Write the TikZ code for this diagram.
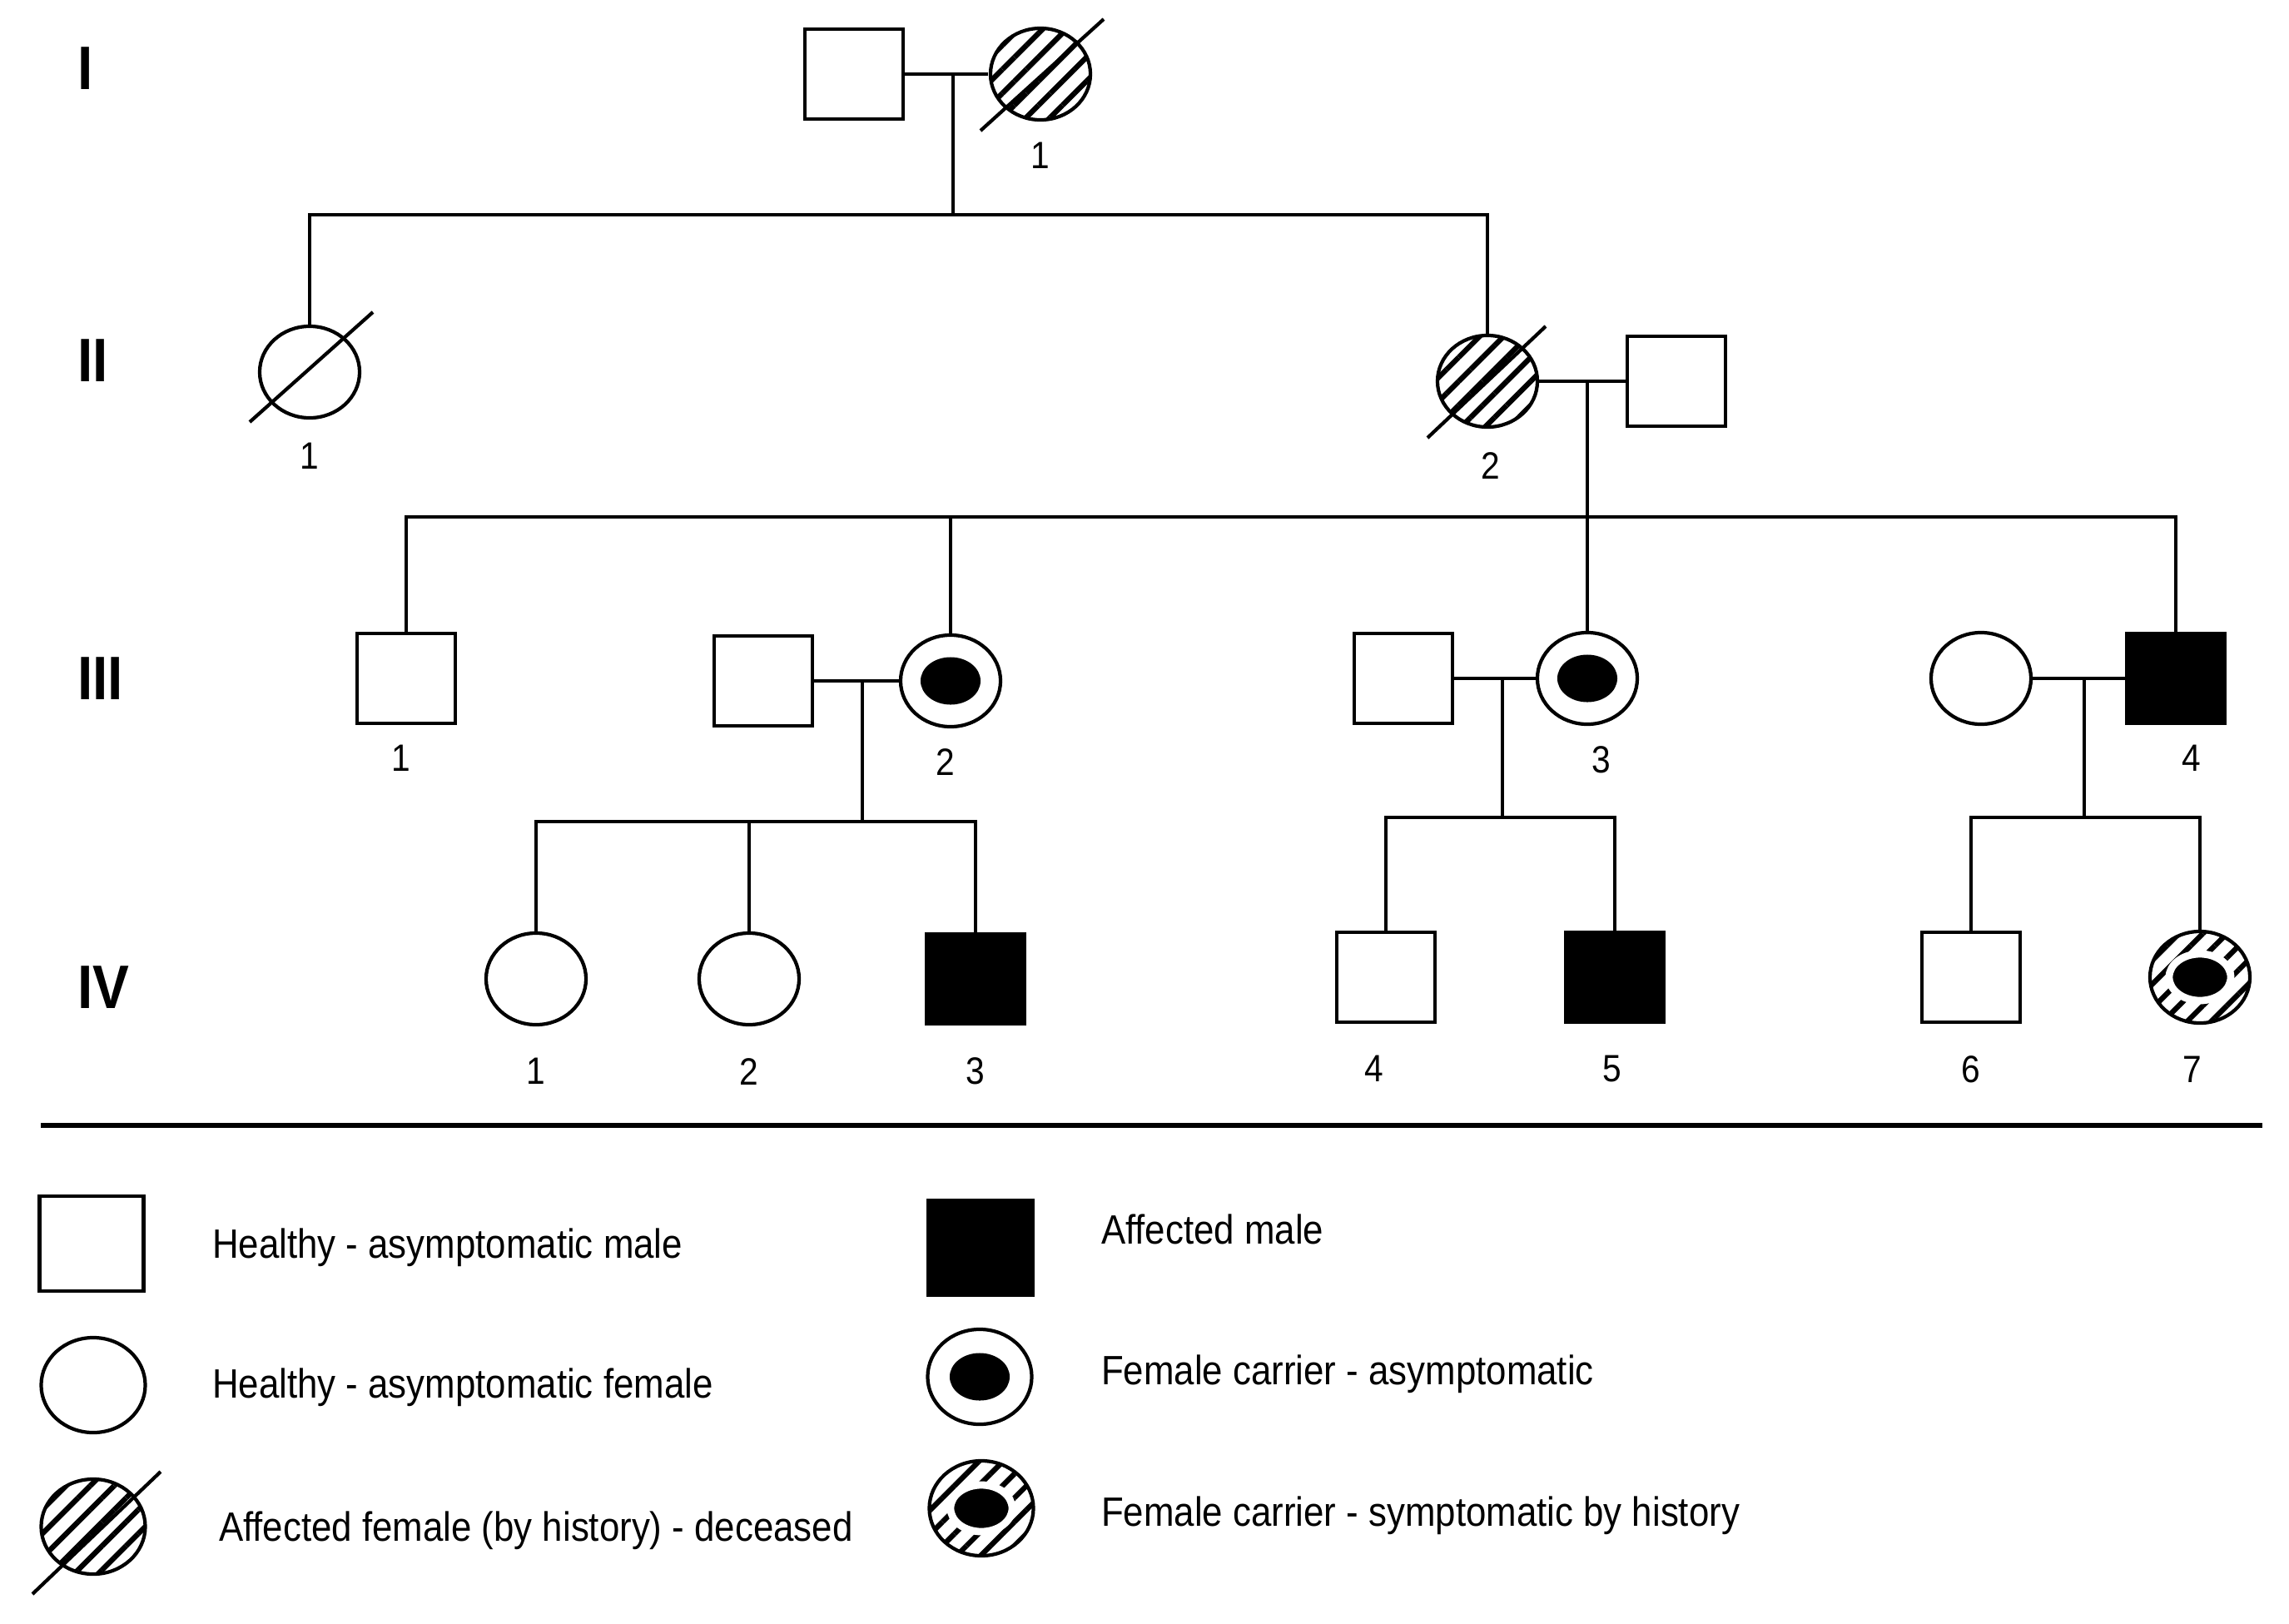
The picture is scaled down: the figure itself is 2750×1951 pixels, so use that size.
\documentclass[tikz,border=0pt]{standalone}
\usepackage{fontspec}
\setmainfont{Liberation Sans}[FakeStretch=0.89]
\usetikzlibrary{shapes.geometric,patterns.meta,positioning,calc}

\begin{document}
\begin{tikzpicture}[
    x=0.01cm, y=-0.01cm,
    node distance=0.22cm,
    line width=1.2pt,
    male/.style={rectangle, draw, minimum width=1.18cm, minimum height=1.08cm, inner sep=0pt},
    female/.style={ellipse, draw, minimum width=1.2cm, minimum height=1.1cm, inner sep=0pt},
    affected/.style={fill=black},
    hatched/.style={pattern={Lines[angle=45,distance=5.8pt,line width=1.8pt]}},
    carrier/.style={female, path picture={\fill[black] (path picture bounding box.center) ellipse (0.36cm and 0.285cm);}},
    sympt/.style={female, hatched, path picture={\filldraw[black, draw=white, line width=2.5pt] (path picture bounding box.center) ellipse (0.37cm and 0.28cm);}},
    legsym/.style={minimum width=1.25cm, minimum height=1.14cm},
    num/.style={font=\fontsize{13}{15}\selectfont, inner sep=0pt},
    gen/.style={font=\fontsize{21}{25}\selectfont\bfseries, inner sep=0pt, anchor=west},
    legtext/.style={font=\fontsize{14}{17}\selectfont, inner sep=0pt, anchor=base west}
]
\useasboundingbox (0,0) rectangle (2750,1951);

% generations
\node[gen] (gI) at (91,82) {I};
\node[gen] (gII) at (91,433) {II};
\node[gen] (gIII) at (91,815) {III};
\node[gen] (gIV) at (91,1186) {IV};

% generation I
\node[male] (i0) at (1026,89) {};
\node[female, hatched] (i1) at (1250,89) {};
\draw ($(i1)+(-72,68)$) -- ($(i1)+(76,-66)$);
\node[num, below=of i1] (i1n) {1};

% generation II
\node[female] (ii1) at (372,447) {};
\draw ($(ii1)+(-72,60)$) -- ($(ii1)+(76,-72)$);
\node[num, below=0.26cm of ii1] (ii1n) {1};
\node[female, hatched] (ii2) at (1787,458) {};
\draw ($(ii2)+(-72,68)$) -- ($(ii2)+(70,-66)$);
\node[num, below=0.26cm of ii2, xshift=0.04cm] (ii2n) {2};
\node[male] (ii3) at (2014,458) {};

% generation III
\node[male] (iii1) at (488,815) {};
\node[num, below=of iii1, xshift=-0.06cm] (iii1n) {1};
\node[male] (iii2h) at (917,818) {};
\node[carrier] (iii2) at (1142,818) {};
\node[num, below=of iii2, xshift=-0.06cm] (iii2n) {2};
\node[male] (iii3h) at (1686,815) {};
\node[carrier] (iii3) at (1907,815) {};
\node[num, below=of iii3, xshift=0.17cm] (iii3n) {3};
\node[female] (iii4w) at (2380,815) {};
\node[male, affected] (iii4) at (2614,815) {};
\node[num, below=of iii4, xshift=0.19cm] (iii4n) {4};

% generation IV
\node[female] (iv1) at (644,1176) {};
\node[female] (iv2) at (900,1176) {};
\node[male, affected] (iv3) at (1172,1176) {};
\node[male] (iv4) at (1665,1174) {};
\node[male, affected] (iv5) at (1940,1174) {};
\node[male] (iv6) at (2368,1174) {};
\node[sympt] (iv7) at (2643,1174) {};
\foreach \n/\dx in {1/0,2/0,3/0,4/-0.14,5/-0.03,6/0,7/-0.09}
    \node[num, below=0.36cm of iv\n, xshift=\dx cm] (iv\n n) {\n};

% couples and sibships
\coordinate (m1) at (1145,89);
\coordinate (s1) at (1145,258);
\draw (i0) -- (i1);
\draw (m1) -- (s1);
\draw (ii1.north) |- (s1) -| (ii2.north);

\coordinate (m2) at (1907,458);
\coordinate (s2) at (1907,621);
\draw (ii2) -- (ii3);
\draw (m2) -- (iii3.north);
\draw (iii1.north) |- (s2) -| (iii4.north);
\draw (iii2.north) -- (iii2.north |- s2);

\coordinate (m3) at (1036,818);
\coordinate (s3) at (1036,987);
\draw (iii2h) -- (iii2);
\draw (m3) -- (s3);
\draw (iv1.north) |- (s3) -| (iv3.north);
\draw (iv2.north) -- (iv2.north |- s3);

\coordinate (m4) at (1805,815);
\coordinate (s4) at (1805,982);
\draw (iii3h) -- (iii3);
\draw (m4) -- (s4);
\draw (iv4.north) |- (s4) -| (iv5.north);

\coordinate (m5) at (2504,815);
\coordinate (s5) at (2504,982);
\draw (iii4w) -- (iii4);
\draw (m5) -- (s5);
\draw (iv6.north) |- (s5) -| (iv7.north);

% legend
\draw[line width=1.8pt] (49,1352) -- (2718,1352);

\node[male, legsym] (lg1) at (110,1494) {};
\node[legtext] (lg1t) at (253,1511) {Healthy - asymptomatic male};
\node[female, legsym] (lg2) at (112,1664) {};
\node[legtext] (lg2t) at (253,1679) {Healthy - asymptomatic female};
\node[female, hatched, legsym] (lg3) at (112,1834) {};
\draw ($(lg3)+(-73,81)$) -- ($(lg3)+(81,-66)$);
\node[legtext] (lg3t) at (261,1851) {Affected female (by history) - deceased};

\node[male, affected, legsym] (lg4) at (1178,1499) {};
\node[legtext] (lg4t) at (1321,1494) {Affected male};
\node[carrier, legsym] (lg5) at (1177,1654) {};
\node[legtext] (lg5t) at (1321,1663) {Female carrier - asymptomatic};
\node[sympt, legsym] (lg6) at (1179,1812) {};
\node[legtext] (lg6t) at (1321,1833) {Female carrier - symptomatic by history};
\end{tikzpicture}
\end{document}
